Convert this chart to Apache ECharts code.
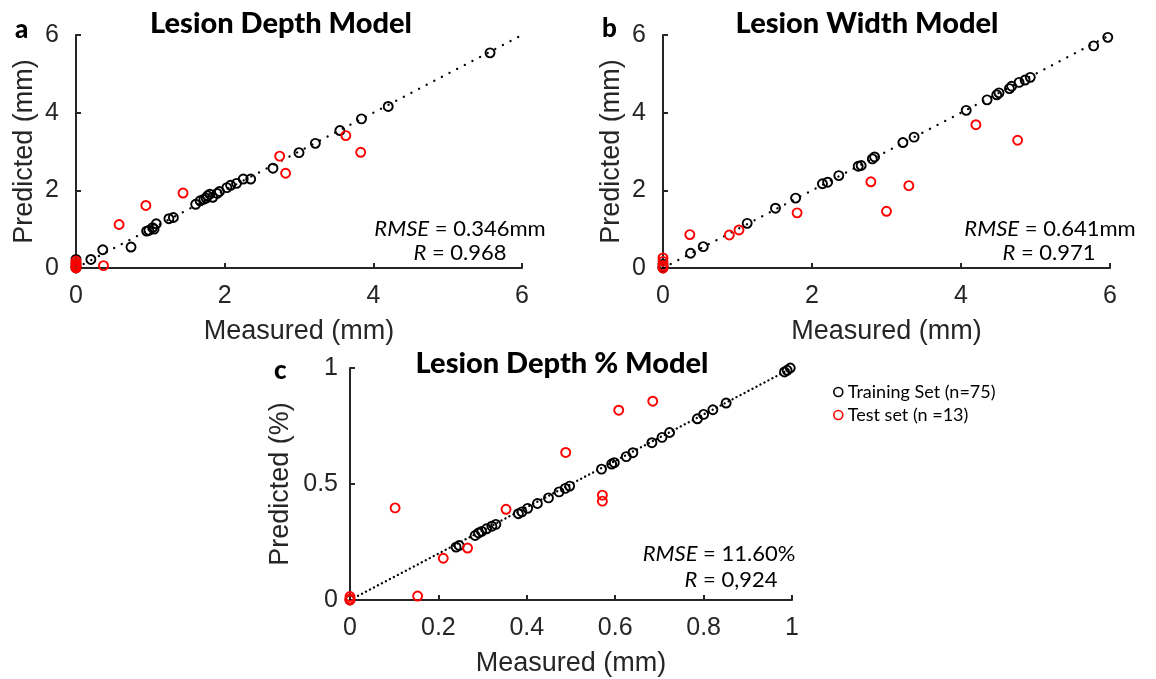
<!DOCTYPE html>
<html><head><meta charset="utf-8">
<script src="https://cdn.jsdelivr.net/npm/echarts@6/dist/echarts.min.js"></script>
<style>html,body{margin:0;padding:0;background:#fff}#c{width:1156px;height:679px}</style>
</head><body><div id="c"></div>
<script>
// ---- Panel a: Lesion Depth Model ----
const trainA_x = [5.57,4.20,3.84,3.55,3.22,3.00,2.65,2.35,2.25,2.16,2.08,2.03,1.93,1.90,1.84,1.80,1.77,1.75,1.72,1.67,1.61,1.31,1.25,1.08,1.05,1.03,0.98,0.95,0.74,0.36,0.20,0,0,0,0];
const trainA_y = [5.54,4.16,3.84,3.54,3.21,2.97,2.57,2.29,2.29,2.18,2.13,2.07,1.97,1.92,1.82,1.90,1.86,1.80,1.77,1.73,1.64,1.30,1.27,1.14,1.00,1.04,0.97,0.95,0.54,0.47,0.22,0.22,0.12,0.05,0];
const testA_x = [0.58,0.94,1.44,2.74,2.82,3.63,3.83,0.37,0,0,0,0,0];
const testA_y = [1.12,1.61,1.93,2.88,2.44,3.41,2.98,0.06,0.18,0.12,0.07,0.03,0];
// ---- Panel b: Lesion Width Model ----
const trainB_x = [5.97,5.78,4.93,4.86,4.78,4.68,4.65,4.51,4.48,4.35,4.07,3.37,3.22,2.84,2.81,2.66,2.62,2.36,2.21,2.14,1.78,1.51,1.13,0.54,0.37,0,0,0];
const trainB_y = [5.94,5.72,4.91,4.84,4.78,4.68,4.62,4.51,4.46,4.33,4.06,3.37,3.23,2.86,2.81,2.64,2.62,2.38,2.21,2.17,1.80,1.54,1.15,0.55,0.38,0.10,0.03,0];
const testB_x = [0.36,0.89,1.02,1.80,2.79,3.30,3.00,4.20,4.76,0,0,0,0];
const testB_y = [0.86,0.85,0.98,1.42,2.22,2.12,1.46,3.69,3.29,0.26,0.17,0.06,0];
// ---- Panel c: Lesion Depth % Model ----
const trainC_x = [0.996,0.989,0.983,0.851,0.821,0.800,0.786,0.723,0.706,0.683,0.640,0.625,0.598,0.592,0.569,0.497,0.487,0.473,0.449,0.424,0.402,0.389,0.381,0.330,0.321,0.309,0.298,0.291,0.283,0.247,0.240,0];
const trainC_y = [1.000,0.990,0.983,0.849,0.820,0.800,0.781,0.722,0.701,0.678,0.635,0.618,0.592,0.586,0.564,0.491,0.481,0.466,0.440,0.416,0.395,0.380,0.372,0.326,0.318,0.307,0.296,0.289,0.278,0.235,0.228,0];
const testC_x = [0.102,0.153,0.211,0.266,0.353,0.488,0.571,0.571,0.608,0.685,0,0,0];
const testC_y = [0.397,0.017,0.180,0.224,0.391,0.636,0.452,0.426,0.818,0.857,0.015,0.005,0];

const diagAB = [0, 6];
const diagC = [0, 1];
const ticksAB = {min: 0, max: 6, interval: 2};
const ticksCx = {min: 0, max: 1, interval: 0.2};
const ticksCy = {min: 0, max: 1, interval: 0.5};

const trainName = 'Training Set (n=75)';
const testName = 'Test set (n =13)';
const titles = ['Lesion Depth Model', 'Lesion Width Model', 'Lesion Depth % Model'];
const letters = ['a', 'b', 'c'];
const stats = [['0.346mm', '0.968'], ['0.641mm', '0.971'], ['11.60%', '0,924']];

const zip = (xs, ys) => xs.map((x, i) => [x, ys[i]]);
const AX = '#262626';
const GOTHIC = 'Lato, "Noto Sans", sans-serif';
const HELV = '"Liberation Sans", Arial, sans-serif';

function xAxis(gi, t, lblMargin) {
  return {
    type: 'value', gridIndex: gi, min: t.min, max: t.max, interval: t.interval,
    name: 'Measured (mm)', nameLocation: 'middle', nameGap: 50,
    nameTextStyle: {fontFamily: HELV, fontSize: 27, color: AX},
    axisLine: {show: true, lineStyle: {color: AX, width: 2}},
    axisTick: {show: true, inside: true, length: 5, lineStyle: {color: AX, width: 2}},
    axisLabel: {fontFamily: HELV, fontSize: 25, color: AX, margin: lblMargin},
    splitLine: {show: false}
  };
}
function yAxis(gi, t, name, gap, lblMargin) {
  return {
    type: 'value', gridIndex: gi, min: t.min, max: t.max, interval: t.interval,
    name: name, nameLocation: 'middle', nameGap: gap, nameRotate: 90,
    nameTextStyle: {fontFamily: HELV, fontSize: 27, color: AX},
    axisLine: {show: true, lineStyle: {color: AX, width: 2}},
    axisTick: {show: true, inside: true, length: 5, lineStyle: {color: AX, width: 2}},
    axisLabel: {fontFamily: HELV, fontSize: 25, color: AX, margin: lblMargin},
    splitLine: {show: false}
  };
}
function diag(i, d, dash) {
  return {
    type: 'line', xAxisIndex: i, yAxisIndex: i, data: [[d[0], d[0]], [d[1], d[1]]],
    symbol: 'none', silent: true, z: 1,
    lineStyle: {color: '#000', width: 2.3, type: dash, cap: 'round'}
  };
}
function scat(i, name, data, color) {
  return {
    type: 'scatter', name: name, xAxisIndex: i, yAxisIndex: i, data: data,
    symbol: 'circle', symbolSize: 9, z: 3,
    itemStyle: {color: 'rgba(0,0,0,0)', borderColor: color, borderWidth: 1.9, opacity: 1}
  };
}
function txt(x, y, text, font, align, extra) {
  return {
    type: 'text', x: x, y: y, silent: true,
    style: Object.assign({text: text, font: font, fill: '#000', align: align, verticalAlign: 'middle',
      textAlign: align, textVerticalAlign: 'middle'}, extra || {})
  };
}
const richI = {i: {fontStyle: 'italic', fontFamily: GOTHIC, fontSize: 22, fill: '#000', color: '#000'}};

const option = {
  animation: false,
  backgroundColor: '#fff',
  grid: [
    {left: 76, top: 35, width: 446, height: 233},
    {left: 663, top: 35, width: 447, height: 233},
    {left: 350, top: 368, width: 442, height: 232}
  ],
  xAxis: [xAxis(0, ticksAB, 16), xAxis(1, ticksAB, 16), xAxis(2, ticksCx, 16)],
  yAxis: [yAxis(0, ticksAB, 'Predicted (mm)', 38, 17), yAxis(1, ticksAB, 'Predicted (mm)', 38, 17), yAxis(2, ticksCy, 'Predicted (%)', 56, 12)],
  legend: {
    data: [trainName, testName], orient: 'vertical', left: 828, top: 378,
    itemWidth: 9, itemHeight: 9, itemGap: 5, icon: 'circle',
    itemStyle: {borderWidth: 1.6},
    textStyle: {fontFamily: GOTHIC, fontSize: 18, color: '#000'}
  },
  series: [
    diag(0, diagAB, [0.1, 8.5]), diag(1, diagAB, [0.1, 8.5]), diag(2, diagC, [0.1, 4.4]),
    scat(0, trainName, zip(trainA_x, trainA_y), '#000'),
    scat(1, trainName, zip(trainB_x, trainB_y), '#000'),
    scat(2, trainName, zip(trainC_x, trainC_y), '#000'),
    scat(0, testName, zip(testA_x, testA_y), '#ff0000'),
    scat(1, testName, zip(testB_x, testB_y), '#ff0000'),
    scat(2, testName, zip(testC_x, testC_y), '#ff0000')
  ],
  graphic: [
    txt(281, 24, titles[0], '900 29px ' + GOTHIC, 'center'),
    txt(867, 24, titles[1], '900 29px ' + GOTHIC, 'center'),
    txt(562, 364, titles[2], '900 29px ' + GOTHIC, 'center'),
    txt(15, 30, letters[0], '900 26px ' + GOTHIC, 'left'),
    txt(602, 29, letters[1], '900 26px ' + GOTHIC, 'left'),
    txt(274, 371, letters[2], '900 26px ' + GOTHIC, 'left'),
    txt(460, 229, '{i|RMSE} = ' + stats[0][0], '22px ' + GOTHIC, 'center', {rich: richI}),
    txt(460, 253, '{i|R} = ' + stats[0][1], '22px ' + GOTHIC, 'center', {rich: richI}),
    txt(1050, 229, '{i|RMSE} = ' + stats[1][0], '22px ' + GOTHIC, 'center', {rich: richI}),
    txt(1049, 253, '{i|R} = ' + stats[1][1], '22px ' + GOTHIC, 'center', {rich: richI}),
    txt(719, 554, '{i|RMSE} = ' + stats[2][0], '22px ' + GOTHIC, 'center', {rich: richI}),
    txt(731, 580, '{i|R} = ' + stats[2][1], '22px ' + GOTHIC, 'center', {rich: richI})
  ]
};
const chart = echarts.init(document.getElementById('c'), null, {renderer: 'canvas'});
chart.setOption(option);
</script></body></html>
